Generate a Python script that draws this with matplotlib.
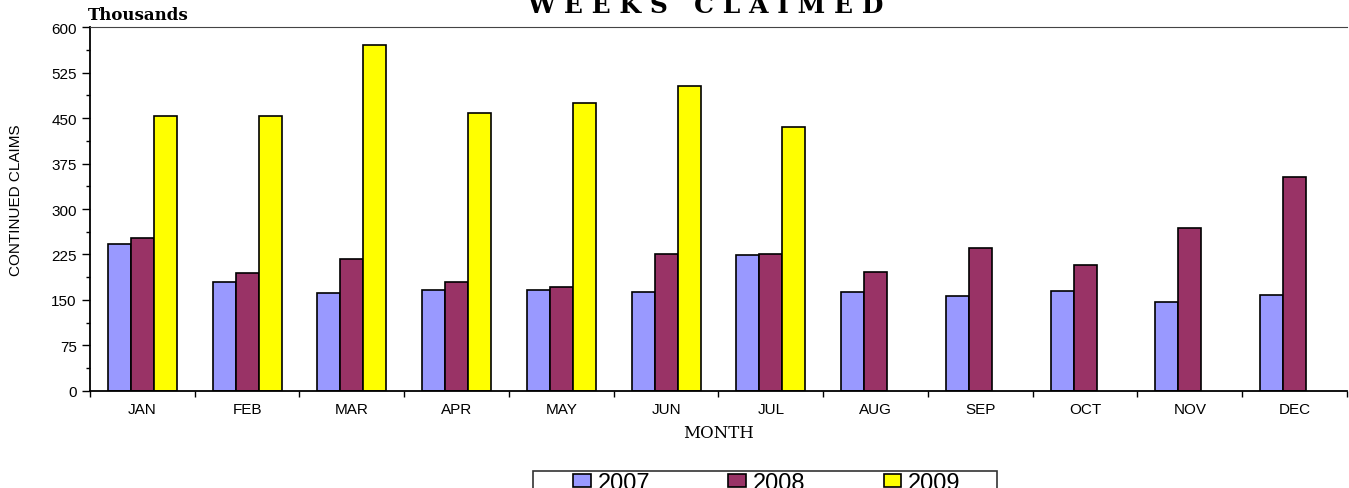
import numpy as np
import matplotlib.pyplot as plt
from matplotlib.patches import Rectangle
from matplotlib.ticker import MultipleLocator, FixedLocator

months = ["JAN", "FEB", "MAR", "APR", "MAY", "JUN",
          "JUL", "AUG", "SEP", "OCT", "NOV", "DEC"]
claims_2007 = [242, 179, 161, 166, 166, 163, 224, 163, 157, 164, 147, 159]
claims_2008 = [253, 194, 218, 179, 172, 226, 226, 196, 236, 207, 268, 352]
claims_2009 = [453, 453, 570, 458, 474, 502, 436]
years = ["2007", "2008", "2009"]

colors = ["#9999FF", "#993366", "#FFFF00"]

fig = plt.figure(figsize=(13.49, 4.89), dpi=100)
ax = fig.add_axes([0.0667, 0.1984, 0.9318, 0.7443])

x = np.arange(len(months))
w = 0.22
series = [claims_2007, claims_2008, claims_2009]
for i, (vals, c, lab) in enumerate(zip(series, colors, years)):
    xi = x[:len(vals)] + (i - 1) * w
    ax.bar(xi, vals, width=w, color=c, edgecolor="black", linewidth=1.2, label=lab)

ax.set_xlim(-0.5, 11.5)
ax.set_ylim(0, 600)
ax.yaxis.set_major_locator(MultipleLocator(75))
ax.yaxis.set_minor_locator(MultipleLocator(37.5))
ax.set_xticks(x)
ax.set_xticklabels(months, fontsize=11, family="Liberation Sans")
ax.xaxis.set_minor_locator(FixedLocator(np.arange(-0.5, 12, 1)))
ax.tick_params(axis="x", which="major", length=0, pad=8)
ax.tick_params(axis="x", which="minor", length=4, direction="out", width=1)
ax.tick_params(axis="y", which="major", length=6, direction="out", width=1, labelsize=11)
ax.tick_params(axis="y", which="minor", length=3, direction="out", width=1)
for t in ax.get_yticklabels():
    t.set_family("Liberation Sans")

ax.spines["right"].set_visible(False)
ax.spines["top"].set_color("#444444")
for s in ["left", "bottom"]:
    ax.spines[s].set_linewidth(1.3)

ax.set_xlabel("MONTH", family="DejaVu Serif", fontsize=12, labelpad=6)
fig.text(0.012, 0.591, "CONTINUED CLAIMS", rotation=90, va="center", ha="center",
         family="Liberation Sans", fontsize=11)
fig.text(0.0652, 0.969, "Thousands", family="DejaVu Serif", fontweight="bold",
         fontsize=12, ha="left", va="center")
fig.text(0.523, 0.988, "W E E K S   C L A I M E D", family="DejaVu Serif",
         fontweight="bold", fontsize=18, ha="center", va="center")

# legend box runs off the bottom edge, as in the source image
fig.patches.append(Rectangle((533 / 1349, -0.05), 464 / 1349, 0.05 + 1 - 472 / 489,
                             transform=fig.transFigure, facecolor="white",
                             edgecolor="#333333", linewidth=1.2, zorder=0))
fig.legend(loc="upper left", bbox_to_anchor=(573 / 1349, 1 - 473 / 489), ncol=3,
           frameon=False, handlelength=0.75, handleheight=0.45,
           handletextpad=0.3, columnspacing=3.3, borderpad=0, borderaxespad=0,
           prop={"family": "Liberation Sans", "size": 17})

fig.savefig("out.png", dpi=100)
